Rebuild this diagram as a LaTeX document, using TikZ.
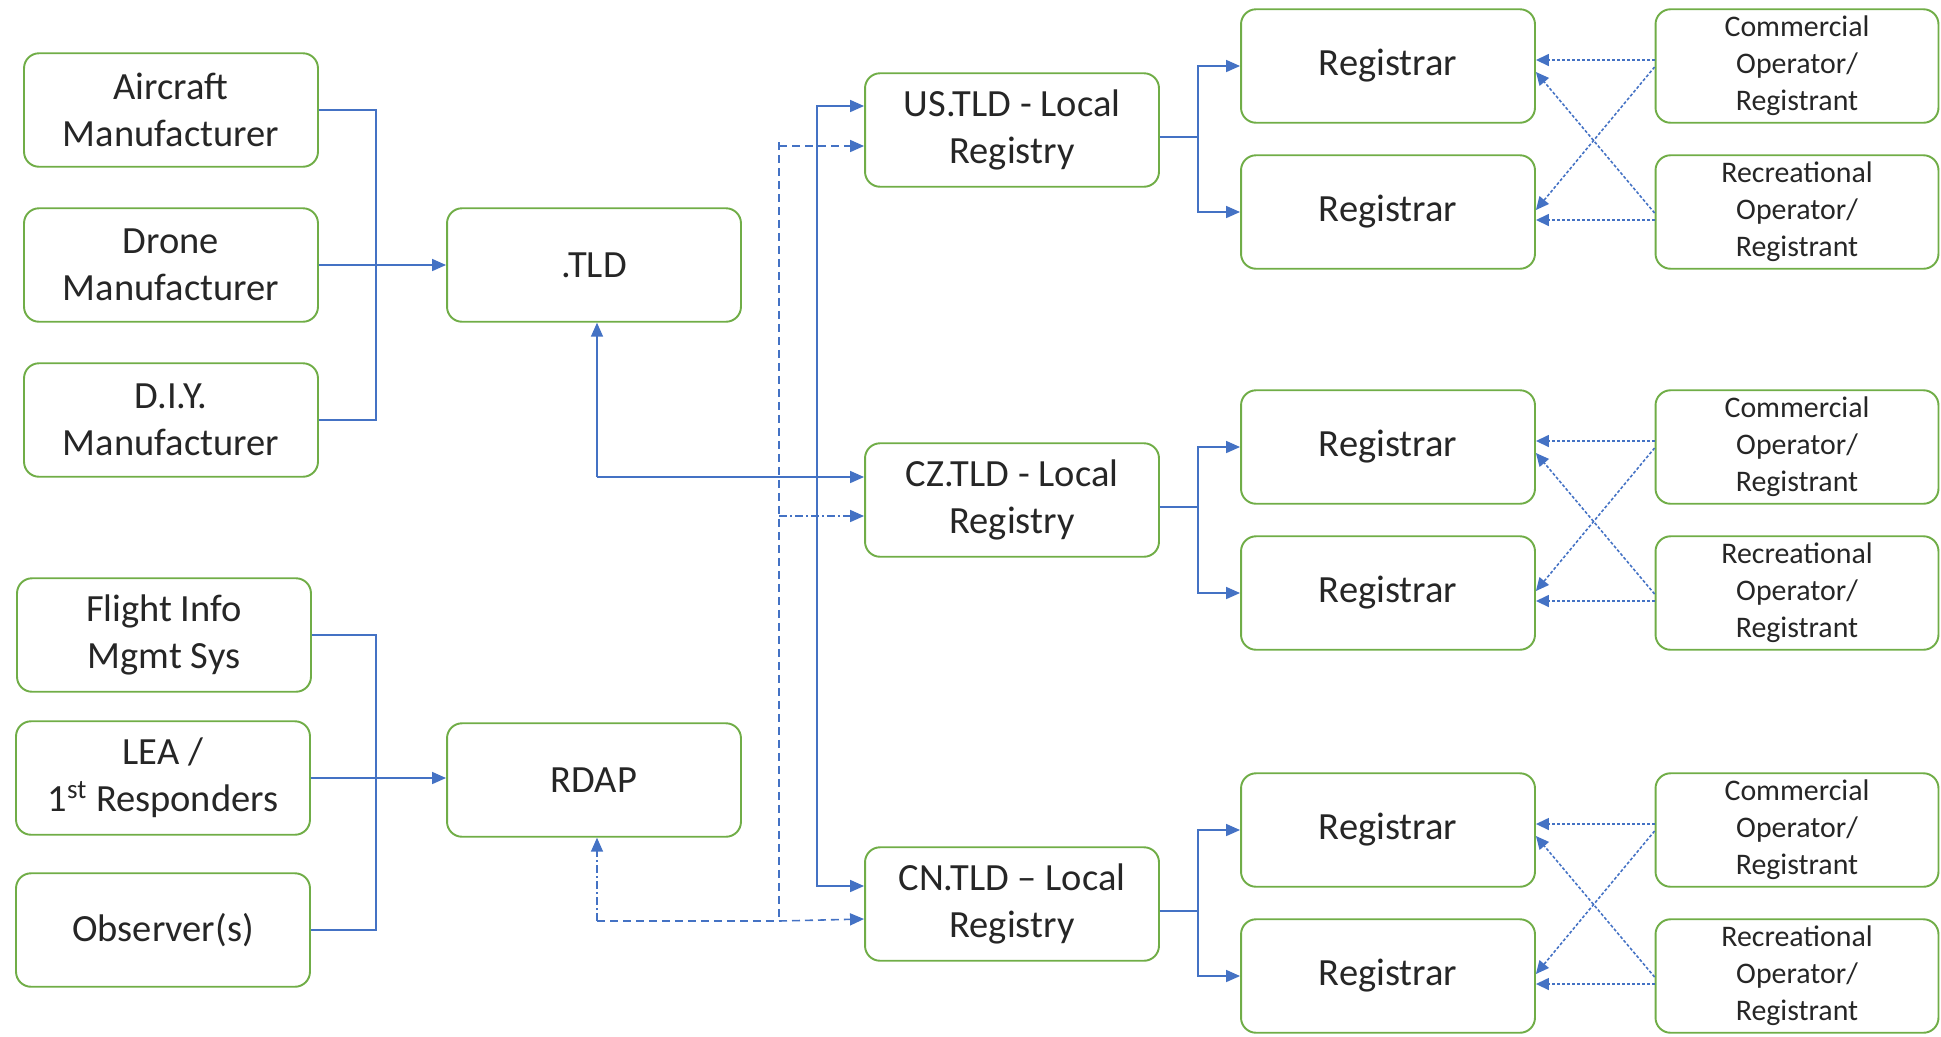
\documentclass[tikz,border=0pt]{standalone}
\usepackage{fontspec}
\setmainfont{Carlito}
\usetikzlibrary{arrows.meta,calc}
\definecolor{boxgreen}{HTML}{70AD47}
\definecolor{lnblue}{HTML}{4472C4}
\begin{document}
\begin{tikzpicture}[x=0.02cm,y=-0.02cm,
  bx/.style={draw=boxgreen,line width=1.1pt,rounded corners=0.3cm,align=center,
    minimum width=5.88cm,minimum height=2.27cm,inner sep=0pt,text=black!85,
    font=\fontsize{21.9}{26.7}\selectfont},
  opbx/.style={bx,minimum width=5.66cm,font=\fontsize{17}{21.1}\selectfont},
  ln/.style={draw=lnblue,line width=0.9pt},
  tip/.style={-{Triangle[length=0.28cm,width=0.24cm]}},
  arr/.style={ln,tip},
  dsh/.style={ln,dash pattern=on 0.16cm off 0.1cm},
  dshdot/.style={ln,dash pattern=on 0.16cm off 0.06cm on 0.04cm off 0.06cm},
  dot/.style={ln,line width=0.9pt,dash pattern=on 0.06cm off 0.04cm,-{Triangle[length=0.26cm,width=0.24cm]}}]
  \useasboundingbox (0,0) rectangle (1941,1036);
  % sources
  \node[bx] (air) at (171,110) {Aircraft\\Manufacturer};
  \node[bx] (drone) at (171,265) {Drone\\Manufacturer};
  \node[bx] (diy) at (171,420) {D.I.Y.\\Manufacturer};
  \node[bx] (fims) at (164,635) {Flight Info\\Mgmt Sys};
  \node[bx] (lea) at (163,778) {LEA /\\1\textsuperscript{st} Responders};
  \node[bx] (obs) at (163,930) {Observer(s)};
  \node[bx] (tld) at (594,265) {.TLD};
  \node[bx] (rdap) at (594,780) {RDAP};
  % local registries
  \node[bx] (us) at (1012,130) {US.TLD - Local\\Registry};
  \node[bx] (cz) at (1012,500) {CZ.TLD - Local\\Registry};
  \node[bx] (cn) at (1012,904) {CN.TLD -- Local\\Registry};
  \foreach \g/\y in {1/66,2/447,3/830}{
    \node[bx] (rega\g) at (1388,\y) {Registrar};
    \node[bx] (regb\g) at (1388,\y+146) {Registrar};
    \node[opbx] (com\g) at (1797,\y) {Commercial\\Operator/\\Registrant};
    \node[opbx] (rec\g) at (1797,\y+146) {Recreational\\Operator/\\Registrant};
  }
  \foreach \g/\t in {1/us,2/cz,3/cn}{
    \draw[arr] ($(\t.east)+(0,7)$) -- ++(38,0) |- (rega\g.west);
    \draw[arr] ($(\t.east)+(0,7)$) -- ++(38,0) |- (regb\g.west);
    \draw[dot] ($(com\g.west)+(0,-6)$) -- ($(rega\g.east)+(0,-6)$);
    \draw[dot] ($(com\g.west)+(0,1)$) -- ($(regb\g.east)+(0,-2)$);
    \draw[dot] ($(rec\g.west)+(0,1)$) -- ($(rega\g.east)+(0,6)$);
    \draw[dot] ($(rec\g.west)+(0,8)$) -- ($(regb\g.east)+(0,8)$);
  }
  % buses on the left
  \coordinate (ba) at (376,265);
  \draw[ln] (air.east) -| (ba) |- (diy.east);
  \draw[arr] (drone.east) -- (tld.west);
  \coordinate (bb) at (376,778);
  \draw[ln] (fims.east) -| (bb) |- (obs.east);
  \draw[arr] (lea.east) -- (lea.east -| rdap.west);
  % .TLD tree
  \coordinate (t0) at (597,477);
  \coordinate (t1) at (817,477);
  \draw[arr] (t0) -- (t0 |- tld.south);
  \draw[arr] (t0) -- (t0 -| cz.west);
  \draw[arr] (t1) |- ($(us.west)+(0,-24)$);
  \draw[arr] (t1) |- ($(cn.west)+(0,-18)$);
  % RDAP tree
  \coordinate (d0) at (779,142);
  \coordinate (d1) at (779,921);
  \coordinate (r0) at (597,921);
  \draw[dsh] (d0) -- (d1);
  \draw[dsh,tip] (d0) ++(0,4) -- ($(us.west)+(0,16)$);
  \draw[dshdot,tip] (d0 |- cz.west) ++(0,16) -- ($(cz.west)+(0,16)$);
  \draw[dsh,tip] (d1) -- ($(cn.west)+(0,15)$);
  \draw[dshdot,tip] (r0) -- (r0 |- rdap.south);
  \draw[dsh] (r0) -- (d1);
\end{tikzpicture}
\end{document}
